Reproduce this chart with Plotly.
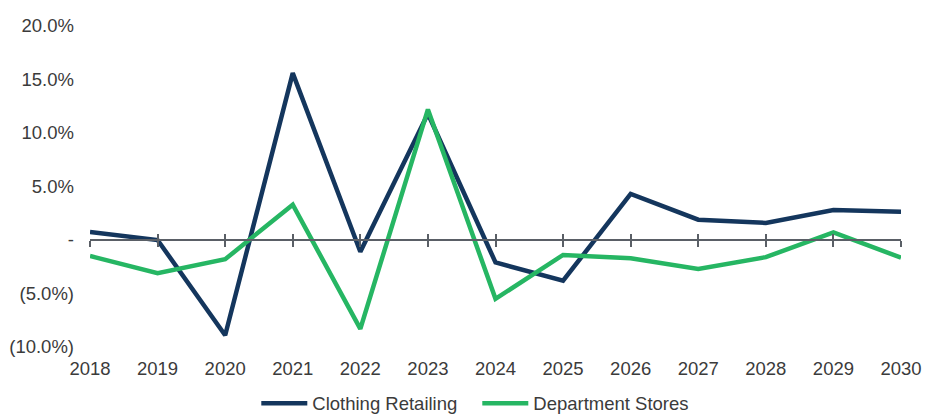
import plotly.graph_objects as go

years = [2018, 2019, 2020, 2021, 2022, 2023, 2024, 2025, 2026, 2027, 2028, 2029, 2030]
clothing = [0.75, 0.0, -8.9, 15.6, -1.1, 11.8, -2.1, -3.8, 4.3, 1.9, 1.6, 2.8, 2.65]
department = [-1.5, -3.1, -1.8, 3.3, -8.3, 12.2, -5.5, -1.4, -1.7, -2.7, -1.6, 0.7, -1.65]
ytick_vals = [-10, -5, 0, 5, 10, 15, 20]
ytick_text = ["(10.0%)", "(5.0%)", "-", "5.0%", "10.0%", "15.0%", "20.0%"]

NAVY = "#14365D"
GREEN = "#26B663"
AXIS = "#5A5F66"
TEXT = "#3B3B3B"
FONT = "Liberation Sans, Arial, sans-serif"
FS = 18.5

fig = go.Figure()
fig.add_trace(go.Scatter(x=years, y=clothing, mode="lines", name="Clothing Retailing",
                         line=dict(color=NAVY, width=4.5)))
fig.add_trace(go.Scatter(x=years, y=department, mode="lines", name="Department Stores",
                         line=dict(color=GREEN, width=4.5)))
# invisible helper traces so the zero-line axes (with crossing ticks) render
for ax in ["x2", "x3"]:
    fig.add_trace(go.Scatter(x=years, y=[None] * len(years), xaxis=ax, yaxis="y",
                             showlegend=False, hoverinfo="skip", mode="lines"))

yr = [-10, 20]
zero_pos = (0 - yr[0]) / (yr[1] - yr[0])

fig.update_layout(
    width=925, height=414,
    paper_bgcolor="white", plot_bgcolor="white",
    margin=dict(l=90, r=24, t=26, b=67, autoexpand=False),
    font=dict(family=FONT, size=FS, color=TEXT),
    showlegend=True,
    legend=dict(orientation="h", x=0.516, xanchor="center", xref="container",
                y=0.025, yanchor="middle", yref="container", itemwidth=46,
                font=dict(size=FS, color=TEXT), entrywidth=160, bgcolor="rgba(0,0,0,0)"),
    xaxis=dict(range=[2018, 2030], tickvals=years, ticktext=[str(y) for y in years],
               showgrid=False, zeroline=False, showline=False, ticks="", automargin=False,
               ticklabelstandoff=8, tickfont=dict(size=FS, color=TEXT)),
    xaxis2=dict(range=[2018, 2030], overlaying="x", anchor="free", position=zero_pos,
                tickvals=years, showticklabels=False, showgrid=False, zeroline=False,
                showline=True, linecolor=AXIS, linewidth=1.5, automargin=False,
                ticks="outside", ticklen=6, tickwidth=1.5, tickcolor=AXIS),
    xaxis3=dict(range=[2018, 2030], overlaying="x", anchor="free", position=zero_pos,
                tickvals=years, showticklabels=False, showgrid=False, zeroline=False,
                showline=False, ticks="inside", ticklen=6, tickwidth=1.5, tickcolor=AXIS,
                automargin=False),
    yaxis=dict(range=yr, tickvals=ytick_vals, ticktext=ytick_text, showgrid=False,
               zeroline=False, showline=False, ticks="", ticklabelstandoff=15,
               automargin=False, tickfont=dict(size=FS, color=TEXT)),
)

fig.write_html("out.html", config={"displayModeBar": False},
               post_script="document.body.style.margin='0';"
               "document.body.style.overflow='hidden';")
